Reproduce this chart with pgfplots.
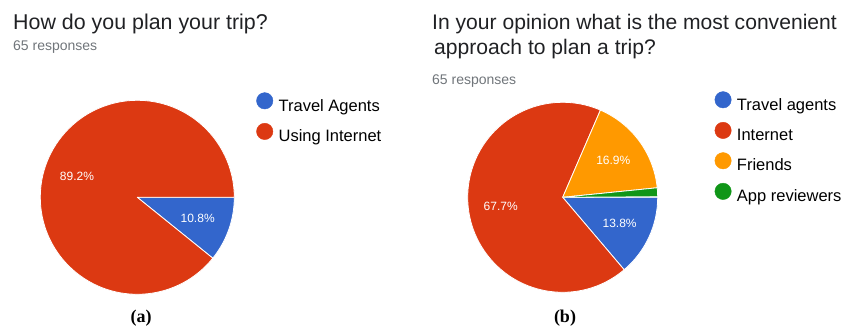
\documentclass[border=0pt]{standalone}
\usepackage{pgfplots}
\pgfplotsset{compat=1.18}
\usepackage{pgfplotstable}
\usepackage{fontspec}
\setmainfont{Liberation Sans}
\newfontfamily\capfont{Liberation Serif}

\definecolor{gblue}{HTML}{3366CC}
\definecolor{gred}{HTML}{DC3912}
\definecolor{gorange}{HTML}{FF9900}
\definecolor{ggreen}{HTML}{109618}
\definecolor{titlegray}{HTML}{202124}
\definecolor{respgray}{HTML}{70757A}

\pgfplotstableread[col sep=comma]{
name,value,color
Travel Agents,10.8,gblue
Using Internet,89.2,gred
}\tabA

\pgfplotstableread[col sep=comma]{
name,value,color
Travel agents,13.8,gblue
Internet,67.7,gred
Friends,16.9,gorange
App reviewers,1.5,ggreen
}\tabB

\newcommand\pctfont{\fontsize{12}{14}\selectfont}

\newcommand\pieslices[2]{%
  \pgfplotstablegetrowsof{#1}%
  \pgfmathtruncatemacro\lastrow{\pgfplotsretval-1}%
  \gdef\curang{0}%
  \pgfplotsforeachungrouped \i in {0,...,\lastrow}{%
    \pgfplotstablegetelem{\i}{value}\of{#1}\let\val\pgfplotsretval%
    \pgfplotstablegetelem{\i}{color}\of{#1}\let\col\pgfplotsretval%
    \pgfplotstablegetelem{\i}{name}\of{#1}\let\nam\pgfplotsretval%
    \pgfmathsetmacro\endang{\curang-3.6*\val}%
    \pgfmathsetmacro\midang{(\curang+\endang)/2}%
    \pgfmathsetmacro\sx{cos(\curang)}%
    \pgfmathsetmacro\sy{sin(\curang)}%
    \pgfmathsetmacro\lx{0.66*cos(\midang)}%
    \pgfmathsetmacro\ly{0.66*sin(\midang)}%
    \edef\temp{\noexpand\fill[\col, draw=white, line width=0.8pt, line join=round] (axis cs:0,0) -- (axis cs:\sx,\sy) arc[start angle=\curang, end angle=\endang, radius=#2pt] -- cycle;}%
    \temp%
    \ifdim\val pt>5pt%
      \edef\temp{\noexpand\node[text=white, font=\noexpand\pctfont] at (axis cs:\lx,\ly) {\val\noexpand\%};}%
      \temp%
    \fi%
    \edef\temp{\noexpand\addlegendimage{\col}\noexpand\addlegendentry{\nam}}%
    \temp%
    \global\let\curang\endang%
  }%
}

\pgfplotsset{
  piestyle/.style={
    scale only axis, width=#1, height=#1,
    xmin=-1, xmax=1, ymin=-1, ymax=1,
    hide axis, clip=false,
    legend cell align=left,
    legend style={draw=none, fill=none, anchor=north west,
      font=\fontsize{16.5}{20}\selectfont,
      nodes={inner sep=0pt}, row sep=10.5pt, column sep=5.5pt},
    legend image code/.code={\fill[##1] (8.2pt,5pt) circle[radius=8.2pt];},
  }
}

\begin{document}
\begin{tikzpicture}[x=1pt,y=1pt]
\useasboundingbox (0,0) rectangle (844,331);

% titles
\node[anchor=base west, inner sep=0pt, text=titlegray, font=\fontsize{21.4}{24}\selectfont] at (13,301) {How do you plan your trip?};
\node[anchor=base west, inner sep=0pt, text=respgray, font=\fontsize{14}{16}\selectfont] at (13,280.3) {65 responses};

\node[anchor=base west, inner sep=0pt, text=titlegray, font=\fontsize{21.1}{24}\selectfont] at (432,301.7) {In your opinion what is the most convenient};
\node[anchor=base west, inner sep=0pt, text=titlegray, font=\fontsize{21.1}{24}\selectfont] at (434,276) {approach to plan a trip?};
\node[anchor=base west, inner sep=0pt, text=respgray, font=\fontsize{14}{16}\selectfont] at (432,246) {65 responses};

\begin{axis}[piestyle=194pt, at={(40.3pt,36.7pt)}, anchor=south west,
  legend style={at={(1.097,1.052)}}]
  \pieslices{\tabA}{97}
\end{axis}

\begin{axis}[piestyle=190pt, at={(467.7pt,38.7pt)}, anchor=south west,
  legend style={at={(1.283,1.069)}}]
  \pieslices{\tabB}{95}
\end{axis}

\node[anchor=base, inner sep=0pt, font=\capfont\bfseries\fontsize{18}{20}\selectfont] at (141,8) {(a)};
\node[anchor=base, inner sep=0pt, font=\capfont\bfseries\fontsize{18}{20}\selectfont] at (565,8) {(b)};
\end{tikzpicture}
\end{document}
